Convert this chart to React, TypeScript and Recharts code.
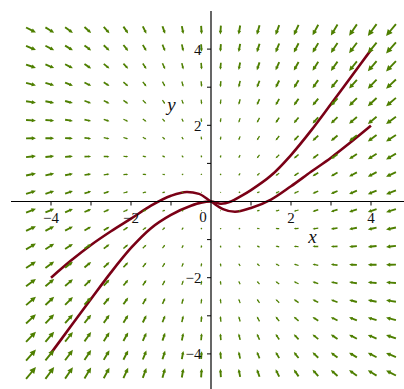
import { ComposedChart, XAxis, YAxis, Scatter, Line, ReferenceLine } from 'recharts';

// direction field grid (20 x 20)
const FIELD_X = [-4.5, -4.03, -3.55, -3.08, -2.61, -2.13, -1.66, -1.18, -0.71, -0.24, 0.24, 0.71, 1.18, 1.66, 2.13, 2.61, 3.08, 3.55, 4.03, 4.5];
const FIELD_Y = [4.5, 4.03, 3.55, 3.08, 2.61, 2.13, 1.66, 1.18, 0.71, 0.24, -0.24, -0.71, -1.18, -1.66, -2.13, -2.61, -3.08, -3.55, -4.03, -4.5];

// horizontal component, one per column
const FIELD_DX = [5.2, 4.6, 4.1, 3.5, 3.0, 2.5, 1.9, 1.4, 0.8, 0.3, -0.3, -0.8, -1.4, -1.9, -2.5, -3.0, -3.5, -4.1, -4.6, -5.2];

// vertical component, rows from top to bottom
const FIELD_DY = [
  [-2.7, -2.8, -3.0, -3.2, -3.4, -3.6, -3.8, -4.0, -4.2, -4.4, -4.6, -4.8, -5.0, -5.2, -5.4, -5.6, -5.8, -6.0, -6.2, -6.3],
  [-2.2, -2.3, -2.5, -2.7, -2.9, -3.1, -3.3, -3.5, -3.7, -3.9, -4.1, -4.3, -4.5, -4.7, -4.9, -5.1, -5.3, -5.5, -5.7, -5.8],
  [-1.8, -1.9, -2.1, -2.3, -2.5, -2.7, -2.9, -3.1, -3.3, -3.5, -3.7, -3.9, -4.1, -4.3, -4.5, -4.7, -4.9, -5.1, -5.3, -5.4],
  [-1.3, -1.4, -1.6, -1.8, -2.0, -2.2, -2.4, -2.6, -2.8, -3.0, -3.2, -3.4, -3.6, -3.8, -4.0, -4.2, -4.4, -4.6, -4.8, -4.9],
  [-0.8, -0.9, -1.1, -1.3, -1.5, -1.7, -1.9, -2.1, -2.3, -2.5, -2.7, -2.9, -3.1, -3.3, -3.5, -3.7, -3.9, -4.1, -4.3, -4.4],
  [-0.3, -0.4, -0.6, -0.8, -1.0, -1.2, -1.4, -1.6, -1.8, -2.0, -2.2, -2.4, -2.6, -2.8, -3.0, -3.2, -3.4, -3.6, -3.8, -3.9],
  [0.1, 0.0, -0.2, -0.4, -0.6, -0.8, -1.0, -1.2, -1.4, -1.6, -1.8, -2.0, -2.2, -2.4, -2.6, -2.8, -3.0, -3.2, -3.4, -3.5],
  [0.6, 0.5, 0.3, 0.1, -0.1, -0.3, -0.5, -0.7, -0.9, -1.1, -1.3, -1.5, -1.7, -1.9, -2.1, -2.3, -2.5, -2.7, -2.9, -3.0],
  [1.1, 1.0, 0.8, 0.6, 0.4, 0.2, 0.0, -0.2, -0.4, -0.6, -0.8, -1.0, -1.2, -1.4, -1.6, -1.8, -2.0, -2.2, -2.4, -2.5],
  [1.6, 1.5, 1.3, 1.1, 0.9, 0.7, 0.5, 0.3, 0.1, -0.1, -0.3, -0.5, -0.7, -0.9, -1.1, -1.3, -1.5, -1.7, -1.9, -2.0],
  [2.0, 1.9, 1.7, 1.5, 1.3, 1.1, 0.9, 0.7, 0.5, 0.3, 0.1, -0.1, -0.3, -0.5, -0.7, -0.9, -1.1, -1.3, -1.5, -1.6],
  [2.5, 2.4, 2.2, 2.0, 1.8, 1.6, 1.4, 1.2, 1.0, 0.8, 0.6, 0.4, 0.2, 0.0, -0.2, -0.4, -0.6, -0.8, -1.0, -1.1],
  [3.0, 2.9, 2.7, 2.5, 2.3, 2.1, 1.9, 1.7, 1.5, 1.3, 1.1, 0.9, 0.7, 0.5, 0.3, 0.1, -0.1, -0.3, -0.5, -0.6],
  [3.5, 3.4, 3.2, 3.0, 2.8, 2.6, 2.4, 2.2, 2.0, 1.8, 1.6, 1.4, 1.2, 1.0, 0.8, 0.6, 0.4, 0.2, 0.0, -0.1],
  [3.9, 3.8, 3.6, 3.4, 3.2, 3.0, 2.8, 2.6, 2.4, 2.2, 2.0, 1.8, 1.6, 1.4, 1.2, 1.0, 0.8, 0.6, 0.4, 0.3],
  [4.4, 4.3, 4.1, 3.9, 3.7, 3.5, 3.3, 3.1, 2.9, 2.7, 2.5, 2.3, 2.1, 1.9, 1.7, 1.5, 1.3, 1.1, 0.9, 0.8],
  [4.9, 4.8, 4.6, 4.4, 4.2, 4.0, 3.8, 3.6, 3.4, 3.2, 3.0, 2.8, 2.6, 2.4, 2.2, 2.0, 1.8, 1.6, 1.4, 1.3],
  [5.4, 5.3, 5.1, 4.9, 4.7, 4.5, 4.3, 4.1, 3.9, 3.7, 3.5, 3.3, 3.1, 2.9, 2.7, 2.5, 2.3, 2.1, 1.9, 1.8],
  [5.8, 5.7, 5.5, 5.3, 5.1, 4.9, 4.7, 4.5, 4.3, 4.1, 3.9, 3.7, 3.5, 3.3, 3.1, 2.9, 2.7, 2.5, 2.3, 2.2],
  [6.3, 6.2, 6.0, 5.8, 5.6, 5.4, 5.2, 5.0, 4.8, 4.6, 4.4, 4.2, 4.0, 3.8, 3.6, 3.4, 3.2, 3.0, 2.8, 2.7],
];

// solution curves
const CURVE_A_X = [-4, -3.5, -3, -2.5, -2, -1.5, -1, -0.5, -0.25, 0, 0.25, 0.5, 0.75, 1, 1.5, 2, 2.5, 3, 3.5, 4];
const CURVE_A_Y = [-3.98, -3.27, -2.56, -1.86, -1.22, -0.7, -0.35, -0.11, -0.03, 0, -0.06, 0.0, 0.14, 0.3, 0.68, 1.22, 1.86, 2.56, 3.27, 3.98];

const CURVE_B_X = [-4, -3.5, -3, -2.5, -2, -1.5, -1, -0.6, -0.3, 0, 0.3, 0.6, 1, 1.5, 2, 2.5, 3, 3.5, 4];
const CURVE_B_Y = [-2.0, -1.55, -1.14, -0.78, -0.45, -0.11, 0.15, 0.25, 0.2, 0, -0.2, -0.27, -0.17, 0.05, 0.4, 0.78, 1.15, 1.56, 1.99];

const X_TICKS = [-4, -3, -2, -1, 1, 2, 3, 4];
const Y_TICKS = [-4, -3, -2, -1, 1, 2, 3, 4];
const LABELED_TICKS = [-4, -2, 2, 4];

const GREEN = '#4e7f00';
const MAROON = '#7a0016';
const SERIF = "'Liberation Serif', 'Times New Roman', Tinos, serif";
const ARROW_SCALE = 1.9;

const arrows = FIELD_Y.flatMap((y, i) =>
  FIELD_X.map((x, j) => ({ x, y, dx: FIELD_DX[j], dy: FIELD_DY[i][j] }))
);
const curveA = CURVE_A_X.map((x, i) => ({ x, y: CURVE_A_Y[i] }));
const curveB = CURVE_B_X.map((x, i) => ({ x, y: CURVE_B_Y[i] }));
const xTicks = X_TICKS.map((x) => ({ x, y: 0 }));
const yTicks = Y_TICKS.map((y) => ({ x: 0, y }));

const fmt = (v: number) => (v < 0 ? `\u2212${Math.abs(v)}` : `${v}`);
const labelStyle = { fontFamily: SERIF, fontSize: 15, fill: '#111' };
const nameStyle = { fontFamily: SERIF, fontSize: 19, fontStyle: 'italic', fill: '#111' };

function Arrow(props: any) {
  const { cx, cy, payload } = props;
  const vx = payload.dx * ARROW_SCALE;
  const vy = -payload.dy * ARROW_SCALE;
  const len = Math.hypot(vx, vy);
  if (!len || len < 0.3) return <g />;
  const ux = vx / len;
  const uy = vy / len;
  const px = -uy;
  const py = ux;
  const tx = cx - vx / 2;
  const ty = cy - vy / 2;
  const hx = cx + vx / 2;
  const hy = cy + vy / 2;
  const head = len * 0.42;
  const hw = Math.max(len * 0.2, 1);
  const sw = Math.min(0.95, hw * 0.6);
  const bx = hx - ux * head;
  const by = hy - uy * head;
  const pts = [
    [tx + px * sw, ty + py * sw],
    [bx + px * sw, by + py * sw],
    [bx + px * hw, by + py * hw],
    [hx, hy],
    [bx - px * hw, by - py * hw],
    [bx - px * sw, by - py * sw],
    [tx - px * sw, ty - py * sw],
  ];
  return <polygon points={pts.map((p) => p.join(',')).join(' ')} fill={GREEN} />;
}

function XTick(props: any) {
  const { cx, cy, payload } = props;
  return (
    <g>
      <line x1={cx} y1={cy} x2={cx} y2={cy + 4} stroke="#000" strokeWidth={1} />
      {LABELED_TICKS.includes(payload.x) && (
        <text x={cx} y={cy + 21.5} textAnchor="middle" style={labelStyle}>
          {fmt(payload.x)}
        </text>
      )}
    </g>
  );
}

function YTick(props: any) {
  const { cx, cy, payload } = props;
  return (
    <g>
      <line x1={cx - 4} y1={cy} x2={cx} y2={cy} stroke="#000" strokeWidth={1} />
      {LABELED_TICKS.includes(payload.y) && (
        <text x={cx - 9.5} y={cy + 5.5} textAnchor="end" style={labelStyle}>
          {fmt(payload.y)}
        </text>
      )}
    </g>
  );
}

// origin label and axis names, placed relative to the origin
function AxisNames(props: any) {
  const { cx, cy } = props;
  return (
    <g>
      <text x={cx - 8} y={cy + 20.5} textAnchor="middle" style={labelStyle}>0</text>
      <text x={cx + 101.5} y={cy + 41.5} textAnchor="middle" style={nameStyle}>x</text>
      <text x={cx - 39.5} y={cy - 91} textAnchor="middle" style={nameStyle}>y</text>
    </g>
  );
}

export default function App() {
  return (
    <div style={{ position: 'fixed', left: 0, top: 0, width: 404, height: 389, overflow: 'hidden', background: '#fff' }}>
      <ComposedChart width={411} height={392} margin={{ top: 11, right: 0, bottom: 0, left: 11 }}>
        <XAxis type="number" dataKey="x" domain={[-5, 5]} allowDataOverflow hide />
        <YAxis type="number" dataKey="y" domain={[-5, 5]} allowDataOverflow hide />
        <Scatter data={arrows} dataKey="y" shape={Arrow} isAnimationActive={false} />
        <Line data={curveA} dataKey="y" type="monotone" stroke={MAROON} strokeWidth={2.6} dot={false} activeDot={false} isAnimationActive={false} />
        <Line data={curveB} dataKey="y" type="monotone" stroke={MAROON} strokeWidth={2.6} dot={false} activeDot={false} isAnimationActive={false} />
        <ReferenceLine x={0} stroke="#000" strokeWidth={1.2} />
        <ReferenceLine y={0} stroke="#000" strokeWidth={1.2} />
        <Scatter data={xTicks} dataKey="y" shape={XTick} isAnimationActive={false} />
        <Scatter data={yTicks} dataKey="y" shape={YTick} isAnimationActive={false} />
        <Scatter data={[{ x: 0, y: 0 }]} dataKey="y" shape={AxisNames} isAnimationActive={false} />
      </ComposedChart>
    </div>
  );
}
